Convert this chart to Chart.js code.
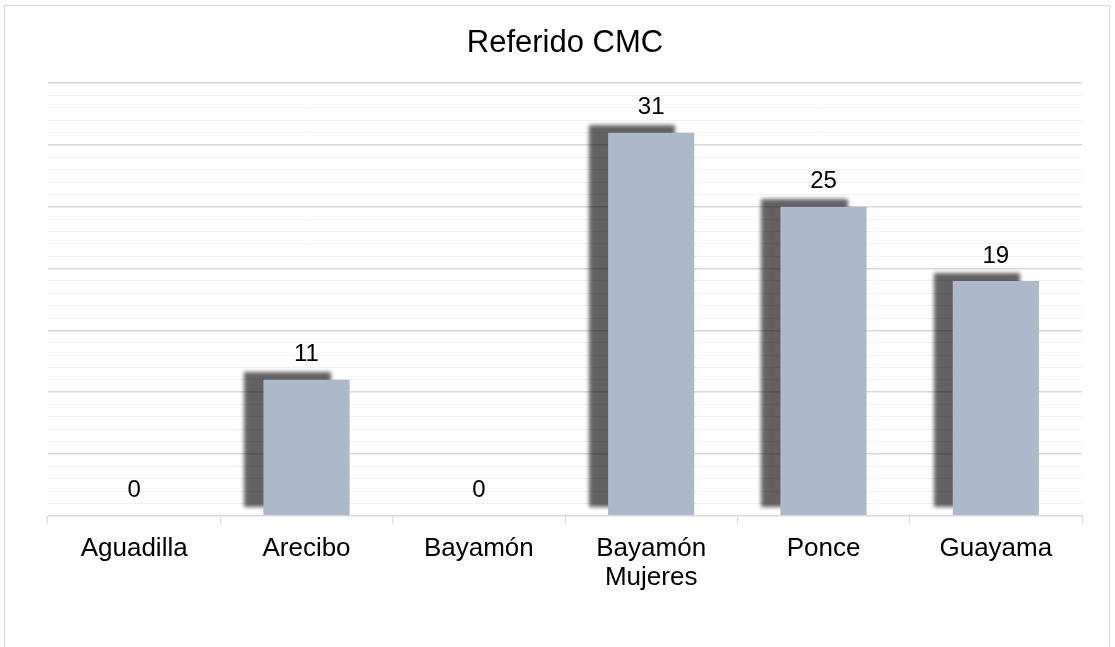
<!DOCTYPE html>
<html>
<head>
<meta charset="utf-8">
<script src="https://cdn.jsdelivr.net/npm/chart.js@4/dist/chart.umd.min.js"></script>
<style>
  html, body { margin: 0; padding: 0; background: #fff; }
  #wrap { position: relative; width: 1115px; height: 647px; }
  #frame { position: absolute; left: 4px; top: 5px; width: 1104px; height: 645px; border: 1px solid #d9d9d9; pointer-events: none; }
</style>
</head>
<body>
<div id="wrap">
  <canvas id="myChart" width="1115" height="647"></canvas>
  <div id="frame"></div>
</div>
<script>
// chart data
const categories = ['Aguadilla', 'Arecibo', 'Bayamón', ['Bayamón', 'Mujeres'], 'Ponce', 'Guayama'];
const referidos = [0, 11, 0, 31, 25, 19];
const yMax = 35;

const fontFamily = '"Liberation Sans", Arial, sans-serif';

// dark drop shadow up and to the left of each bar
const barShadow = {
  id: 'barShadow',
  beforeDatasetsDraw(chart) {
    const ctx = chart.ctx;
    ctx.save();
    ctx.shadowColor = 'rgba(0,0,0,0.62)';
    ctx.shadowOffsetX = -19;
    ctx.shadowOffsetY = -8;
    ctx.shadowBlur = 4;
  },
  afterDatasetsDraw(chart) {
    chart.ctx.restore();
  }
};

// value labels above each bar
const valueLabels = {
  id: 'valueLabels',
  afterDraw(chart) {
    const ctx = chart.ctx;
    const meta = chart.getDatasetMeta(0);
    ctx.save();
    ctx.font = '24px ' + fontFamily;
    ctx.fillStyle = '#000';
    ctx.textAlign = 'center';
    ctx.textBaseline = 'middle';
    meta.data.forEach(function(bar, i) {
      ctx.fillText(String(referidos[i]), bar.x, bar.y - 25);
    });
    ctx.restore();
  }
};

const ctx = document.getElementById('myChart');
new Chart(ctx, {
  type: 'bar',
  data: {
    labels: categories,
    datasets: [{
      label: 'Referido CMC',
      data: referidos,
      backgroundColor: '#adb9ca',
      borderWidth: 0,
      categoryPercentage: 1,
      barPercentage: 0.5
    }]
  },
  options: {
    responsive: false,
    animation: false,
    layout: {
      padding: { left: 48, right: 33, top: 0, bottom: 44 }
    },
    scales: {
      x: {
        grid: {
          drawOnChartArea: false,
          drawTicks: true,
          tickLength: 8,
          color: '#d9d9d9'
        },
        border: { color: '#d9d9d9', width: 1 },
        ticks: {
          color: '#000',
          padding: 11,
          font: { family: fontFamily, size: 26, lineHeight: 1.1 },
          maxRotation: 0,
          autoSkip: false
        }
      },
      y: {
        min: 0,
        max: yMax,
        ticks: { display: false, stepSize: 1 },
        border: { display: false },
        grid: {
          drawTicks: false,
          color: function(c) {
            return c.tick.value % 5 === 0 ? '#d9d9d9' : '#f2f2f2';
          },
          lineWidth: function(c) {
            return c.tick.value % 5 === 0 ? 1.5 : 1;
          }
        }
      }
    },
    plugins: {
      legend: { display: false },
      tooltip: { enabled: false },
      title: {
        display: true,
        text: 'Referido CMC',
        color: '#000',
        padding: { top: 25, bottom: 21 },
        font: { family: fontFamily, size: 31, weight: 'normal', lineHeight: 1.2 }
      }
    }
  },
  plugins: [barShadow, valueLabels]
});
</script>
</body>
</html>
